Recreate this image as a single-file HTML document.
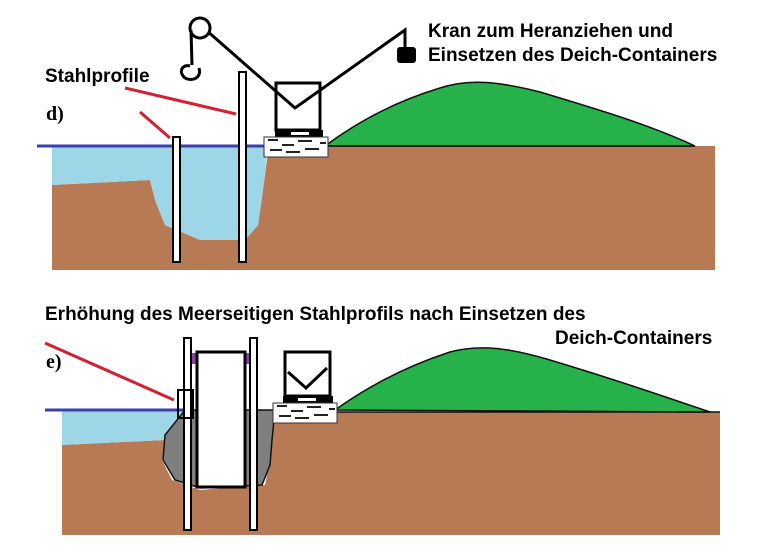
<!DOCTYPE html>
<html><head><style>body{margin:0;background:#fff}svg{display:block}text{font-family:"Liberation Sans",sans-serif;font-weight:bold;font-size:19px}</style></head><body>
<svg width="768" height="558" viewBox="0 0 768 558">
<!-- panel d -->
<path d="M52,185 L150,180 L155,200 L165,225 L200,240 L245,240 L258,225 L263,190 L268,152 L280,146 L715,146 L715,270 L52,270 Z" fill="#b87a55"/>
<path d="M52,146 L268,146 L263,190 L258,225 L245,240 L200,240 L165,225 L155,200 L150,180 L52,185 Z" fill="#9dd6e6"/>
<path d="M325,146 C360,120 400,100 440,88 C470,78 500,82 540,92 C600,110 650,125 695,146 Z" fill="#27b14b" stroke="#111" stroke-width="1.5"/>
<line x1="37" y1="146" x2="268" y2="146" stroke="#3a3fb0" stroke-width="3"/>
<line x1="325" y1="146" x2="695" y2="146" stroke="#111" stroke-width="1.5"/>
<rect x="173" y="137" width="7" height="125" fill="#fff" stroke="#000" stroke-width="2"/>
<rect x="239" y="72" width="7" height="190" fill="#fff" stroke="#000" stroke-width="2"/>
<line x1="125" y1="88" x2="236" y2="114" stroke="#d42030" stroke-width="3"/>
<line x1="140" y1="112" x2="170" y2="138" stroke="#d42030" stroke-width="3"/>
<rect x="276" y="83" width="44" height="47" fill="#fff" stroke="#000" stroke-width="3"/>
<rect x="275" y="130" width="48" height="7" fill="#000"/>
<rect x="291" y="132" width="18" height="3" fill="#fff"/>
<rect x="264" y="137" width="64" height="20" fill="#fff" stroke="#333" stroke-width="1"/>
<path d="M268,140h10M282,145h12M298,141h14M270,150h12M286,152h14M305,149h14M320,143h6" stroke="#222" stroke-width="2"/>
<polyline points="206,30 295,108 405,30 405,47" fill="none" stroke="#000" stroke-width="3"/>
<rect x="397" y="47" width="19" height="16" rx="3" fill="#000"/>
<circle cx="200" cy="28" r="10" fill="#fff" stroke="#000" stroke-width="3"/>
<line x1="191" y1="30" x2="192" y2="65" stroke="#000" stroke-width="3"/>
<path d="M199,68 C202,78 192,82 185,78 C178,72 182,64 190,66" fill="none" stroke="#000" stroke-width="3"/>
<text x="428" y="37">Kran zum Heranziehen und</text>
<text x="428" y="61">Einsetzen des Deich-Containers</text>
<text x="45" y="82">Stahlprofile</text>
<text x="46" y="120" style="font-family:'Liberation Serif',serif;font-size:20px">d)</text>
<!-- panel e -->
<path d="M62,445 L165,440 L162,460 L172,480 L200,490 L265,485 L270,460 L272,412 L720,412 L720,535 L62,535 Z" fill="#b87a55"/>
<path d="M62,410 L185,410 L165,440 L62,445 Z" fill="#9dd6e6"/>
<path d="M185,410 L275,410 L272,440 L270,465 L262,485 L200,488 L175,480 L163,460 L165,435 Z" fill="#7f7f7f" stroke="#111" stroke-width="1.5"/>
<path d="M335,410 C370,385 410,365 450,352 C480,344 510,348 550,360 C610,378 660,395 710,412 Z" fill="#27b14b" stroke="#111" stroke-width="1.5"/>
<line x1="45" y1="410" x2="185" y2="410" stroke="#3a3fb0" stroke-width="3"/>
<line x1="335" y1="412" x2="720" y2="412" stroke="#111" stroke-width="1.5"/>
<rect x="190" y="353" width="8" height="11" fill="#9040a0"/>
<rect x="245" y="353" width="6" height="11" fill="#9040a0"/>
<rect x="184" y="338" width="7" height="192" fill="#fff" stroke="#000" stroke-width="2"/>
<rect x="250" y="338" width="7" height="192" fill="#fff" stroke="#000" stroke-width="2"/>
<rect x="197" y="352" width="48" height="135" fill="#fff" stroke="#000" stroke-width="3"/>
<rect x="178" y="390" width="15" height="28" fill="none" stroke="#000" stroke-width="2"/>
<line x1="45" y1="343" x2="174" y2="400" stroke="#d42030" stroke-width="3"/>
<rect x="285" y="352" width="45" height="44" fill="#fff" stroke="#000" stroke-width="3"/>
<polyline points="288,372 306,388 327,368" fill="none" stroke="#000" stroke-width="3"/>
<rect x="283" y="396" width="50" height="7" fill="#000"/>
<rect x="298" y="398" width="18" height="3" fill="#fff"/>
<rect x="273" y="403" width="64" height="20" fill="#fff" stroke="#333" stroke-width="1"/>
<path d="M277,406h10M291,411h12M307,407h14M279,416h12M295,418h14M314,415h14M329,409h6" stroke="#222" stroke-width="2"/>
<text x="45" y="320">Erhöhung des Meerseitigen Stahlprofils nach Einsetzen des</text>
<text x="555" y="344">Deich-Containers</text>
<text x="46" y="368" style="font-family:'Liberation Serif',serif;font-size:20px">e)</text>
</svg>
</body></html>
